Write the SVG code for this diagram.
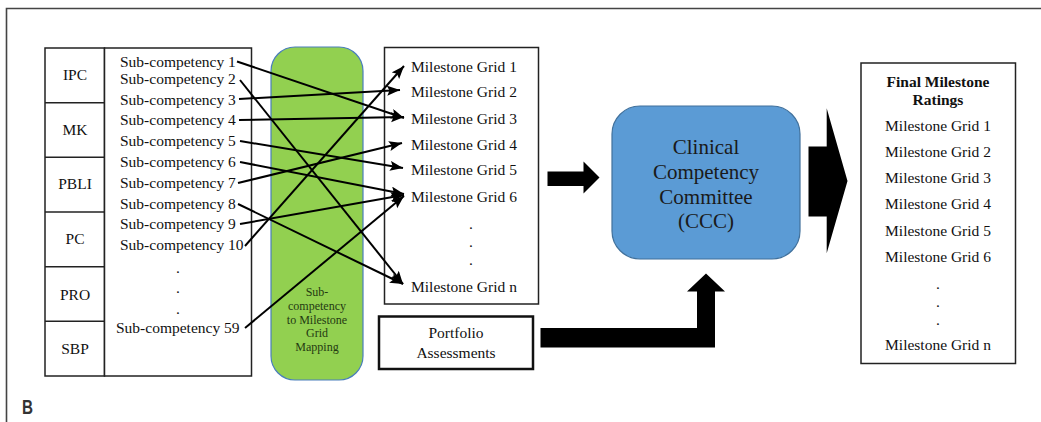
<svg xmlns="http://www.w3.org/2000/svg" width="1041" height="422" viewBox="0 0 1041 422">
<defs>
<marker id="ah" markerUnits="userSpaceOnUse" markerWidth="14" markerHeight="12" refX="13" refY="5" orient="auto">
<path d="M0,0 L13,5 L0,10 L2.5,5 z" fill="#000"/>
</marker>
<style>
.t{font-family:"Liberation Serif","DejaVu Serif",serif;font-size:15.5px;fill:#111}
.c{text-anchor:middle}
.box{fill:#fff;stroke:#222;stroke-width:1.5}
.ln{stroke:#000;stroke-width:2;fill:none;marker-end:url(#ah)}
.g{font-family:"Liberation Serif","DejaVu Serif",serif;font-size:12px;fill:#243a12;text-anchor:middle}
.k{font-family:"Liberation Serif","DejaVu Serif",serif;font-size:21px;fill:#1a1a1a;text-anchor:middle}
</style>
</defs>
<rect width="1041" height="422" fill="#fff"/>
<path d="M6.5,430 V8.5 H1050" fill="none" stroke="#444" stroke-width="1.6"/>
<text x="22" y="414" font-family="Liberation Sans, Arial, sans-serif" font-weight="bold" font-size="21" fill="#333" textLength="11" lengthAdjust="spacingAndGlyphs">B</text>

<g id="categories">
<rect class="box" x="45" y="48" width="59.5" height="328"/>
<line x1="45" y1="102.7" x2="104.5" y2="102.7" stroke="#222" stroke-width="1.5"/>
<line x1="45" y1="157.3" x2="104.5" y2="157.3" stroke="#222" stroke-width="1.5"/>
<line x1="45" y1="212" x2="104.5" y2="212" stroke="#222" stroke-width="1.5"/>
<line x1="45" y1="266.7" x2="104.5" y2="266.7" stroke="#222" stroke-width="1.5"/>
<line x1="45" y1="321.3" x2="104.5" y2="321.3" stroke="#222" stroke-width="1.5"/>
<text class="t c" x="75" y="80">IPC</text>
<text class="t c" x="75" y="135">MK</text>
<text class="t c" x="75" y="189">PBLI</text>
<text class="t c" x="75" y="244">PC</text>
<text class="t c" x="75" y="300">PRO</text>
<text class="t c" x="75" y="354">SBP</text>
</g>

<g id="subcompetencies">
<rect class="box" x="104.5" y="48" width="147" height="328"/>
<text class="t" x="120" y="67">Sub-competency 1</text>
<text class="t" x="120" y="84">Sub-competency 2</text>
<text class="t" x="120" y="105">Sub-competency 3</text>
<text class="t" x="120" y="125">Sub-competency 4</text>
<text class="t" x="120" y="146">Sub-competency 5</text>
<text class="t" x="120" y="167">Sub-competency 6</text>
<text class="t" x="120" y="188">Sub-competency 7</text>
<text class="t" x="120" y="209">Sub-competency 8</text>
<text class="t" x="120" y="229">Sub-competency 9</text>
<text class="t" x="120" y="250">Sub-competency 10</text>
<text class="t c" x="178" y="273">.</text>
<text class="t c" x="178" y="293">.</text>
<text class="t c" x="178" y="314">.</text>
<text class="t" x="116" y="333">Sub-competency 59</text>
</g>

<g id="mapping">
<rect x="271" y="47" width="92" height="333" rx="24" ry="24" fill="#92D050" stroke="#4a7ebb" stroke-width="1.2"/>
<text class="g" x="317" y="296">Sub-</text>
<text class="g" x="317" y="310">competency</text>
<text class="g" x="317" y="324">to Milestone</text>
<text class="g" x="317" y="337">Grid</text>
<text class="g" x="317" y="351">Mapping</text>
</g>

<g id="milestones">
<rect class="box" x="384.5" y="47.5" width="154" height="256.5"/>
<text class="t" x="411" y="72">Milestone Grid 1</text>
<text class="t" x="411" y="97">Milestone Grid 2</text>
<text class="t" x="411" y="124">Milestone Grid 3</text>
<text class="t" x="411" y="150">Milestone Grid 4</text>
<text class="t" x="411" y="175">Milestone Grid 5</text>
<text class="t" x="411" y="202">Milestone Grid 6</text>
<text class="t c" x="471" y="229">.</text>
<text class="t c" x="471" y="247">.</text>
<text class="t c" x="471" y="265">.</text>
<text class="t" x="411" y="292">Milestone Grid n</text>
</g>

<g id="portfolio">
<rect x="379" y="316.5" width="154" height="52.5" fill="#fff" stroke="#111" stroke-width="2.5"/>
<text class="t c" x="456" y="338">Portfolio</text>
<text class="t c" x="456" y="358">Assessments</text>
</g>

<g id="ccc">
<rect x="612" y="106" width="188" height="153" rx="28" ry="28" fill="#5B9BD5" stroke="#41719C" stroke-width="1.2"/>
<text class="k" x="706" y="154">Clinical</text>
<text class="k" x="706" y="179">Competency</text>
<text class="k" x="706" y="204">Committee</text>
<text class="k" x="706" y="228">(CCC)</text>
</g>

<g id="final">
<rect class="box" x="861" y="63" width="154.5" height="300.5"/>
<text class="t c" x="938" y="87" font-weight="bold" font-size="15">Final Milestone</text>
<text class="t c" x="938" y="105" font-weight="bold" font-size="15">Ratings</text>
<text class="t c" x="938" y="131">Milestone Grid 1</text>
<text class="t c" x="938" y="157">Milestone Grid 2</text>
<text class="t c" x="938" y="183">Milestone Grid 3</text>
<text class="t c" x="938" y="209">Milestone Grid 4</text>
<text class="t c" x="938" y="236">Milestone Grid 5</text>
<text class="t c" x="938" y="262">Milestone Grid 6</text>
<text class="t c" x="938" y="289">.</text>
<text class="t c" x="938" y="307">.</text>
<text class="t c" x="938" y="325">.</text>
<text class="t c" x="938" y="350">Milestone Grid n</text>
</g>

<g id="connectors">
<line class="ln" x1="237" y1="61.5" x2="404" y2="118"/>
<line class="ln" x1="240" y1="80" x2="403" y2="284"/>
<line class="ln" x1="239" y1="99" x2="400" y2="90"/>
<line class="ln" x1="239" y1="120" x2="404" y2="117"/>
<line class="ln" x1="240" y1="141" x2="403" y2="168"/>
<line class="ln" x1="240" y1="162" x2="404" y2="194"/>
<line class="ln" x1="238" y1="183" x2="402" y2="143"/>
<line class="ln" x1="238" y1="204" x2="403" y2="284"/>
<line class="ln" x1="240" y1="224" x2="404" y2="195"/>
<line class="ln" x1="245" y1="246" x2="404" y2="66"/>
<line class="ln" x1="245" y1="328" x2="404" y2="196"/>
<polygon points="547.5,171.5 583.5,171.5 583.5,161.5 599.5,177.5 583.5,193.5 583.5,186 547.5,186" fill="#000"/>
<polygon points="808.5,146.5 826.7,146.5 826.7,108.3 847.5,181 826.7,253.3 826.7,216.5 808.5,216.5" fill="#000"/>
<polygon points="540.5,328 697,328 697,291.5 687,291.5 706,273.5 725,291.5 715,291.5 715,347.5 540.5,347.5" fill="#000"/>
</g>
</svg>
